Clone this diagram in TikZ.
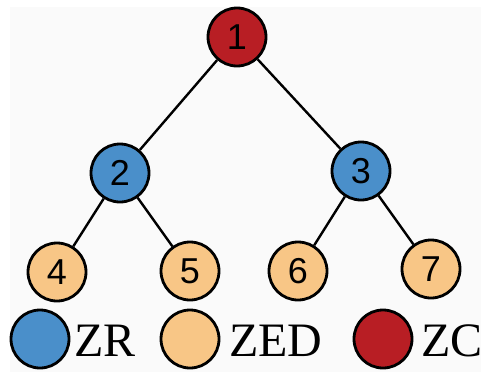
\documentclass[tikz,border=0pt]{standalone}
\usepackage{fontspec}
\setmainfont{Liberation Serif}
\newfontfamily\numfont{Liberation Sans}
\definecolor{zcred}{HTML}{B81E24}
\definecolor{zrblue}{HTML}{4A8FCA}
\definecolor{zedorange}{HTML}{F8C686}
\definecolor{bggray}{HTML}{FAFAFA}
\begin{document}
\begin{tikzpicture}[x=1pt,y=-1pt,
  tnode/.style={circle,draw=black,line width=2.8pt,minimum size=58pt,inner sep=0pt,font=\numfont\fontsize{36}{36}\selectfont},
  red/.style={tnode,fill=zcred},
  blue/.style={tnode,fill=zrblue},
  orange/.style={tnode,fill=zedorange},
  edge/.style={line width=2.4pt,draw=black},
  legtext/.style={anchor=west,inner sep=0pt,font=\fontsize{48}{48}\selectfont}]
\useasboundingbox (0,0) rectangle (481,372);
\fill[bggray] (10,7) rectangle (481,372);
\node[red] (n1) at (237,37) {1};
\node[blue] (n2) at (120,173) {2};
\node[blue] (n3) at (361,171) {3};
\node[orange] (n4) at (57,272) {4};
\node[orange] (n5) at (190,271) {5};
\node[orange] (n6) at (298,271) {6};
\node[orange] (n7) at (431,269) {7};
\draw[edge] (n1) -- (n2);
\draw[edge] (n1) -- (n3);
\draw[edge] (n2) -- (n4);
\draw[edge] (n2) -- (n5);
\draw[edge] (n3) -- (n6);
\draw[edge] (n3) -- (n7);
\node[blue] (l1) at (40,339) {};
\node[legtext] (t1) at (74,341) {ZR};
\node[orange] (l2) at (190,339) {};
\node[legtext] (t2) at (229,341) {ZED};
\node[red] (l3) at (383,339) {};
\node[legtext] (t3) at (421,341) {ZC};
\end{tikzpicture}
\end{document}
